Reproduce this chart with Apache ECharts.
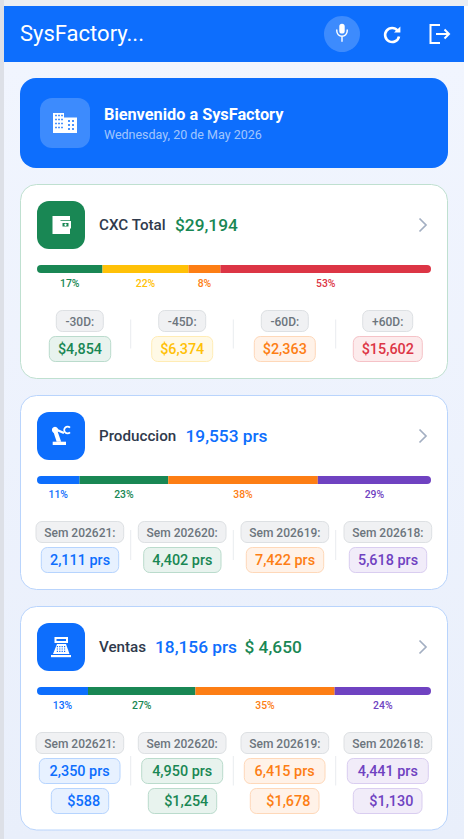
<!DOCTYPE html>
<html><head><meta charset="utf-8">
<style>html,body{margin:0;padding:0;background:#fff;overflow:hidden}#c{width:468px;height:839px}</style>
<script src="https://cdn.jsdelivr.net/npm/echarts@6/dist/echarts.min.js"></script>
</head><body><div id="c"></div>
<script>
// ---- data ----
const cxcLabels = ['-30D:', '-45D:', '-60D:', '+60D:'];
const cxcValues = [4854, 6374, 2363, 15602];
const cxcPct = [17, 22, 8, 53];
const weekLabels = ['Sem 202621:', 'Sem 202620:', 'Sem 202619:', 'Sem 202618:'];
const prodValues = [2111, 4402, 7422, 5618];
const prodPct = [11, 23, 38, 29];
const ventasPrs = [2350, 4950, 6415, 4441];
const ventasUsd = [588, 1254, 1678, 1130];
const ventasPct = [13, 27, 35, 24];
const cxcTotal = '$29,194', prodTotal = '19,553 prs', ventasTotalPrs = '18,156 prs', ventasTotalUsd = '$ 4,650';

// ---- style ----
const F = 'Roboto, sans-serif';
const C = {blue:'#0d6efd', green:'#198754', yellow:'#ffc107', orange:'#fd7e14', red:'#dc3545', purple:'#6f42c1', dark:'#2f3a4c'};
const T = {
  [C.blue]:['#e7f1ff','#b6d4fe'], [C.green]:['#e8f3ee','#badbcc'], [C.yellow]:['#fff9e6','#ffecb5'],
  [C.orange]:['#fff2e8','#fed8b9'], [C.red]:['#fcebec','#f5c2c7'], [C.purple]:['#f1ecf9','#d9cdf0']
};
const cxcColors = [C.green, C.yellow, C.orange, C.red];
const weekColors = [C.blue, C.green, C.orange, C.purple];
const fmt = v => v.toLocaleString('en-US');

const g = [];
let pathId = 0;
const rect = (x0, y0, x1, y1, fill, stroke, r, extra) => g.push(Object.assign({type:'rect', shape:{x:x0, y:y0, width:x1-x0, height:y1-y0, r:r||0}, style:{fill:fill, stroke:stroke||null, lineWidth:stroke?1:0}}, extra||{}));
const text = (x, y, s, size, weight, color, align) => g.push({type:'text', x:x, y:y, style:{text:s, fontFamily:F, fontSize:size, fontWeight:weight, fill:color, align:align||'left', verticalAlign:'middle'}});
const path = (d, x, y, sc, style) => {
  const name = 'iconPath' + (pathId++);
  echarts.graphic.registerShape(name, echarts.graphic.extendPath(d, {}));
  g.push({type:name, x:x, y:y, scaleX:sc, scaleY:sc, style:Object.assign({fill:'#fff'}, style||{})});
};

// page
rect(0, 0, 468, 839, '#ffffff');
rect(0, 0, 468, 6, '#ebeef3');
rect(0, 0, 4, 839, '#dde0e7');
g.push({type:'rect', shape:{x:4, y:62, width:460, height:777}, style:{fill:new echarts.graphic.LinearGradient(0,0,0,1,[{offset:0,color:'#f1f5fe'},{offset:1,color:'#e9effb'}])}});
rect(4, 6, 464, 62, C.blue);
text(20, 33.5, 'SysFactory...', 22, 400, '#fff');
g.push({type:'circle', shape:{cx:342, cy:34, r:18}, style:{fill:'rgba(255,255,255,0.2)'}});
// mic
path('M-2.7 -4.5 a2.7 2.7 0 0 1 5.4 0 v4.4 a2.7 2.7 0 0 1 -5.4 0 z', 342, 31, 1);
path('M-5.2 -1 v1 a5.2 5.2 0 0 0 10.4 0 v-1 M0 5.2 v5', 342, 31, 1, {fill:null, stroke:'#fff', lineWidth:1.4, lineCap:'round'});
// refresh
path('M5.6 -4.4 A7 7 0 1 0 7 1.4', 392, 35, 1, {fill:null, stroke:'#fff', lineWidth:2.6});
path('M2 -2.6 H8.4 V-8.6 z', 392, 35, 1);
// logout
path('M0 -9 H-9.5 V9 H0', 440, 34, 1, {fill:null, stroke:'#fff', lineWidth:2});
path('M-4 0 H9 M4.5 -4.5 L9 0 L4.5 4.5', 440, 34, 1, {fill:null, stroke:'#fff', lineWidth:2});

// welcome
rect(20, 78, 448, 168, C.blue, null, 16);
rect(40, 98, 90, 148, 'rgba(255,255,255,0.2)', null, 12);
path('M0 0 H11 V4.5 H24 V20 H0 z', 53, 113, 1);
[0,1,2].forEach(i => [0,1,2,3].forEach(j => rect(55+i*3,114.8+j*4,57+i*3,116.3+j*4,'#4c93fe')));
[0,1].forEach(i => [0,1,2].forEach(j => rect(68+i*4,120+j*4,70+i*4,122+j*4,'#4c93fe')));
text(104, 114.5, 'Bienvenido a SysFactory', 16.3, 700, '#fff');
text(104, 134.5, 'Wednesday, 20 de May 2026', 12.5, 400, 'rgba(255,255,255,0.62)');

// helpers for cards
const card = (y0, y1, border) => rect(20.5, y0, 447.5, y1, '#fff', border, 16, {});
const iconBox = (y, color) => rect(37, y, 85, y+48, color, null, 12);
const chevron = y => path('M-3.5 -6.5 L3 0 L-3.5 6.5', 423, y, 1, {fill:null, stroke:'#a3afc2', lineWidth:1.7});
const pill = (x0, x1, y0, y1, s, color, size, off) => {
  rect(x0, y0, x1, y1, T[color][0], T[color][1], 6);
  text((x0+x1)/2 + (off||0), (y0+y1)/2 + 0.5, s, size, 500, color, 'center');
};
const labelPill = (x0, x1, y0, y1, s) => {
  rect(x0, y0, x1, y1, '#f0f1f3', '#dde0e3', 6);
  text((x0+x1)/2, (y0+y1)/2 + 0.5, s, 12, 500, '#6c757d', 'center');
};
const divider = (x, y0, y1) => rect(x-0.5, y0, x+0.5, y1, '#e9ecef');

// card 1
card(184.5, 378.5, '#bfe0d0');
iconBox(201, C.green);
path('M0 0 H17.5 V4.2 H8 V12 H17.5 V18 H0 z', 52.5, 216, 1);
path('M7 5 H18.5 V12.5 H7 z M10 7 V10.5 H16 V7 z', 52.5, 216, 1);
g.push({type:'circle', shape:{cx:65.5, cy:224.7, r:1.2}, style:{fill:'#fff'}});
text(99, 225, 'CXC Total', 15.2, 500, C.dark);
text(175, 225, cxcTotal, 17.3, 500, C.green);
chevron(225);
const c1L = [[56.3,103.3],[158.7,205.7],[261.3,308.3],[362.7,412.7]];
const c1V = [[49.3,110.7],[151.7,212.7],[254.3,315.3],[353.3,422.3]];
c1L.forEach((p,i) => labelPill(p[0],p[1],310.5,331.5,cxcLabels[i]));
c1V.forEach((p,i) => pill(p[0],p[1],336.5,361.5,'$'+fmt(cxcValues[i]),cxcColors[i],14.4));
[130.7,233.3,335.7].forEach(x => divider(x,319.5,348.5));

// card 2
const wL = [[36,123.7],[138.3,226],[241,328.7],[344,431.7]];
card(395.5, 589.5, '#b9d4fc');
iconBox(412, C.blue);
rect(52.7, 441.7, 66, 445, '#fff');
path('M53.2 431 L57 429.8 L61.2 441.7 L56.6 441.7 z', 0, 0, 1);
g.push({type:'circle', shape:{cx:55, cy:430, r:3.1}, style:{fill:'#fff'}});
path('M55 429.2 L64 433', 0, 0, 1, {fill:null, stroke:'#fff', lineWidth:2.4});
path('M70 427.6 A3.4 3.4 0 1 0 70 432.4', 0, 0, 1, {fill:null, stroke:'#fff', lineWidth:1.8});
text(99, 436, 'Produccion', 15.2, 500, C.dark);
text(185.5, 436, prodTotal, 17.3, 500, C.blue);
chevron(436);
wL.forEach((p,i) => labelPill(p[0],p[1],521.5,542.5,weekLabels[i]));
[[41.3,118.7],[143.7,221],[246.3,323.7],[349.3,426.7]].forEach((p,i) => pill(p[0],p[1],547.5,572.5,fmt(prodValues[i])+' prs',weekColors[i],14.4));
[130.7,233.3,335.7].forEach(x => divider(x,530,560));

// card 3
card(606.5, 830, '#b9d4fc');
iconBox(623, C.blue);
path('M54.5 637 H68 V643 H54.5 z M56.5 639 V641 H66 V639 z', 0, 0, 1);
path('M57 644 H66 L69.5 654 H53 z', 0, 0, 1);
rect(51, 655, 71, 657.2, '#fff');
[0,1,2].forEach(j => [0,1,2,3].forEach(i => rect(56.8+i*2.4,646+j*2.4,58+i*2.4,647.2+j*2.4,C.blue)));
text(99, 647, 'Ventas', 15.2, 500, C.dark);
text(155, 647, ventasTotalPrs, 17.3, 500, C.blue);
text(244.5, 647, ventasTotalUsd, 17.3, 500, C.green);
chevron(647);
wL.forEach((p,i) => labelPill(p[0],p[1],732.5,753.5,weekLabels[i]));
[[39.3,120],[141.7,222.7],[244.3,325],[347.3,428.3]].forEach((p,i) => pill(p[0],p[1],758.5,783.5,fmt(ventasPrs[i])+' prs',weekColors[i],14.4));
[[51.3,108.7],[148.3,216.7],[250.3,319],[353.3,422]].forEach((p,i) => pill(p[0],p[1],788.5,813.5,'$'+fmt(ventasUsd[i]),weekColors[i],14.4,3.7));
[130.7,233.3,335.7].forEach(x => divider(x,756,785.5));

// ---- stacked bars, through the library's axes ----
const bars = [
  {top:265, values:cxcValues, pct:cxcPct, colors:cxcColors},
  {top:476, values:prodValues, pct:prodPct, colors:weekColors},
  {top:687, values:ventasPrs, pct:ventasPct, colors:weekColors}
];
const sum = a => a.reduce((s,v) => s+v, 0);
const series = [];
bars.forEach((b,k) => b.values.forEach((v,i) => series.push({
  type:'bar', stack:'s'+k, xAxisIndex:k, yAxisIndex:k, barWidth:8, data:[v], silent:true, animation:false, z:5,
  itemStyle:{color:b.colors[i], borderRadius:i===0?[4,0,0,4]:(i===3?[0,4,4,0]:0)},
  label:{show:true, position:'bottom', distance:5, formatter:b.pct[i]+'%', fontFamily:F, fontSize:10.4, fontWeight:500, color:b.colors[i]}
})));

const chart = echarts.init(document.getElementById('c'), null, {renderer:'svg'});
chart.setOption({
  animation:false,
  graphic:{elements:g.map(e => Object.assign({silent:true, z:1}, e))},
  grid:bars.map(b => ({left:37, width:394, top:b.top, height:8, containLabel:false})),
  xAxis:bars.map((b,k) => ({type:'value', gridIndex:k, min:0, max:sum(b.values), show:false})),
  yAxis:bars.map((b,k) => ({type:'category', gridIndex:k, data:['s'], show:false})),
  series:series
});
</script></body></html>
